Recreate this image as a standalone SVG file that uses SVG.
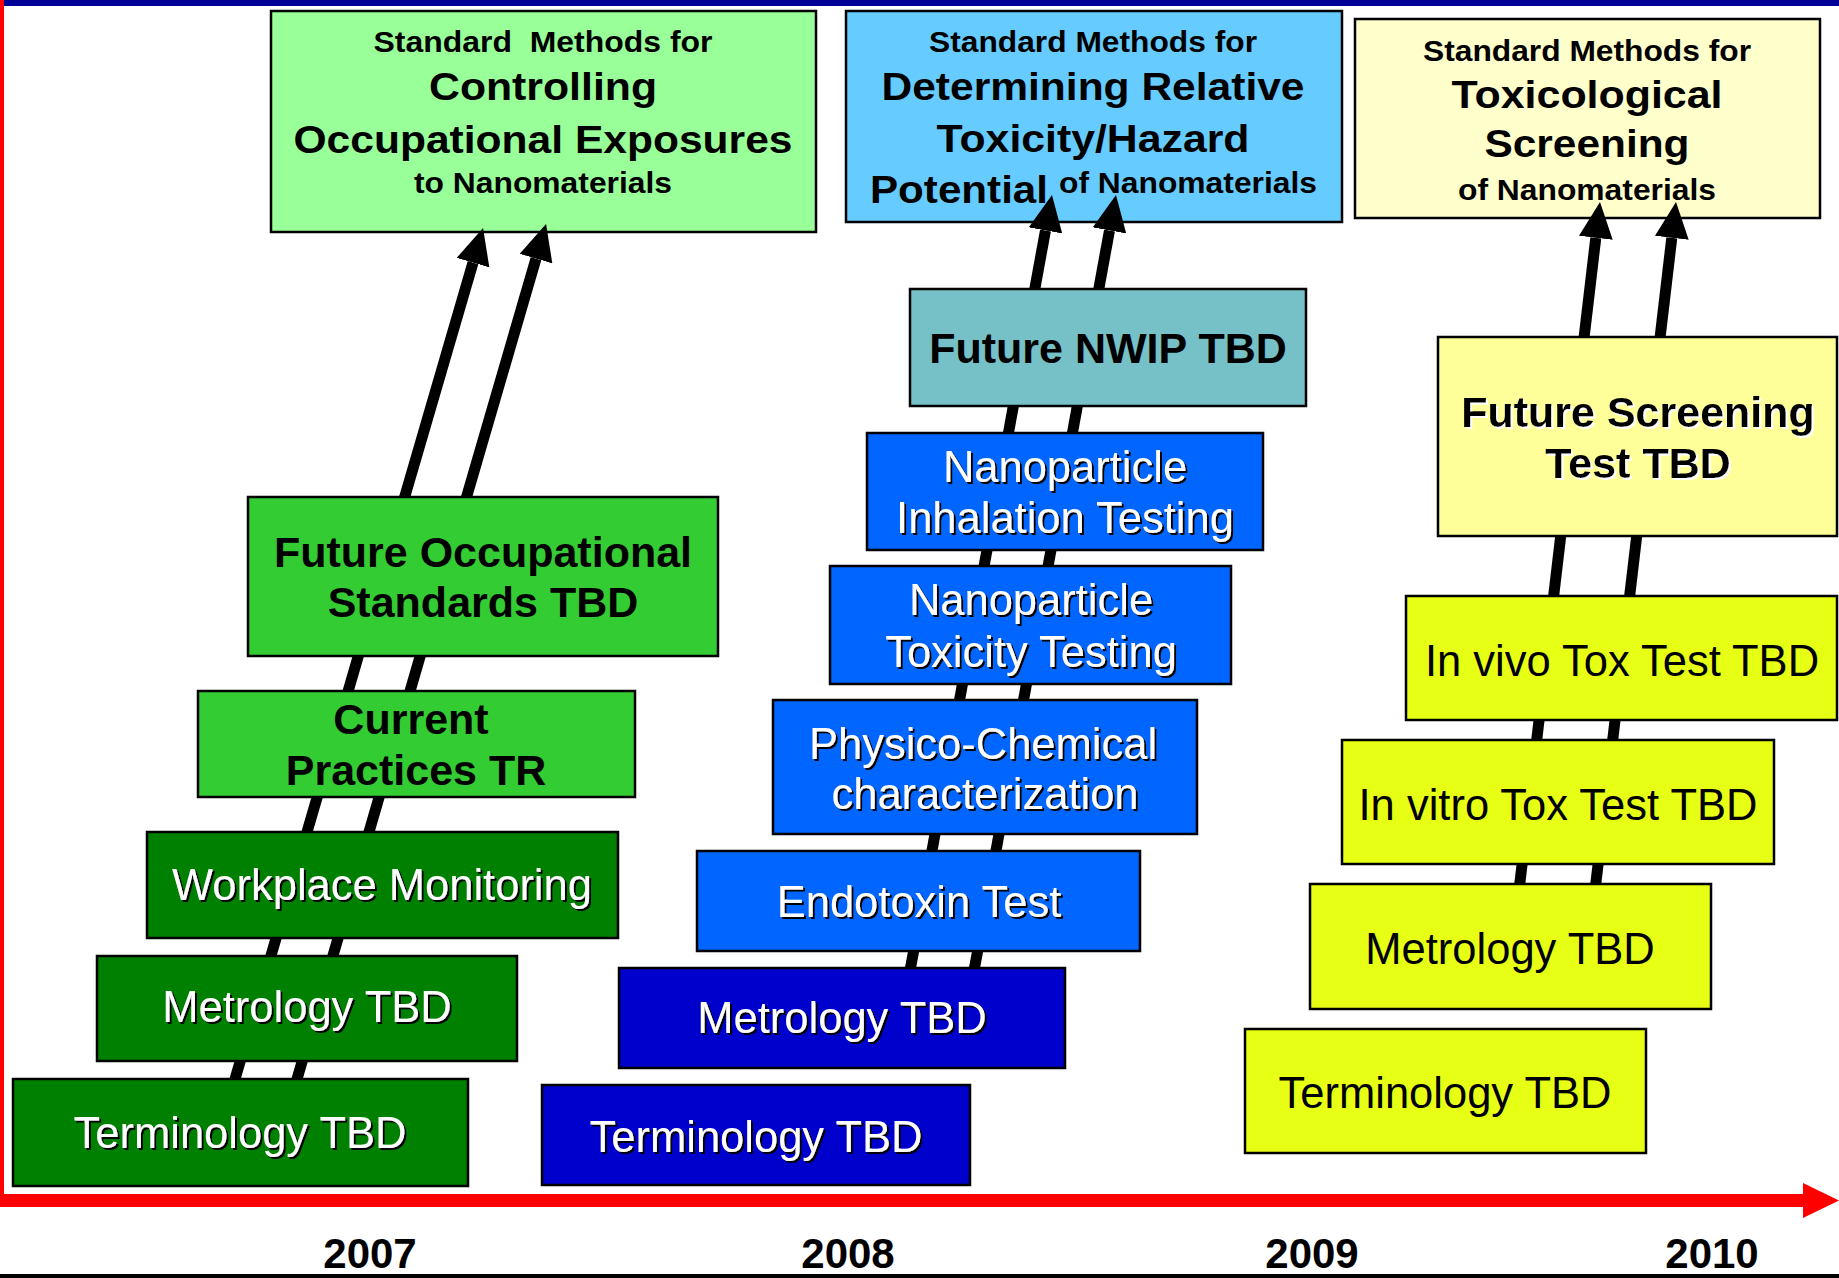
<svg xmlns="http://www.w3.org/2000/svg" width="1839" height="1278" viewBox="0 0 1839 1278">
<style>
.box{stroke:#000;stroke-width:2.5}
.t{font-family:"Liberation Sans",Arial,sans-serif;text-anchor:middle}
.w{fill:#fff;font-size:43.5px;filter:url(#dsh)}
.k{fill:#000;font-size:43.5px}
.b{fill:#000;font-weight:bold;font-size:43px}
.hd{fill:#000;font-weight:bold;font-size:39px}
.sm{fill:#000;font-weight:bold;font-size:30px}
.yr{fill:#000;font-weight:bold;font-size:42px}
.conn{stroke:#000;stroke-width:11;fill:none;marker-end:url(#ah)}
</style>
<defs>
<filter id="dsh" x="-10%" y="-30%" width="120%" height="160%"><feDropShadow dx="2" dy="2" stdDeviation="0.4" flood-color="#000" flood-opacity="1"/></filter>
<filter id="lsh" x="-10%" y="-30%" width="120%" height="160%"><feDropShadow dx="2" dy="2" stdDeviation="0.4" flood-color="#fff" flood-opacity="1"/></filter>
<marker id="ah" markerUnits="userSpaceOnUse" markerWidth="36" markerHeight="34" viewBox="0 0 36 34" refX="0" refY="17" orient="auto"><path d="M0,0 L36,17 L0,34 z" fill="#000"/></marker>
</defs>
<rect x="0" y="0" width="1839" height="1278" fill="#fff"/>
<rect x="0" y="0" width="1839" height="6" fill="#000099"/>
<rect x="0" y="0" width="4" height="1207" fill="#ff0000"/>
<rect x="0" y="1194" width="1804" height="13" fill="#ff0000"/>
<polygon points="1803,1183 1839,1200.5 1803,1218" fill="#ff0000"/>
<rect x="0" y="1274" width="1839" height="4" fill="#000"/>
<g id="years">
<text class="t yr" x="370" y="1268">2007</text>
<text class="t yr" x="848" y="1268">2008</text>
<text class="t yr" x="1312" y="1268">2009</text>
<text class="t yr" x="1712" y="1268">2010</text>
</g>
<g id="goal-occupational">
<rect class="box" x="271" y="11" width="545" height="221" fill="#99ff99"/>
<text class="t sm" x="543" y="52" xml:space="preserve" textLength="339" lengthAdjust="spacingAndGlyphs">Standard  Methods for</text>
<text class="t hd" x="543" y="100" textLength="228" lengthAdjust="spacingAndGlyphs">Controlling</text>
<text class="t hd" x="543" y="153" textLength="499" lengthAdjust="spacingAndGlyphs">Occupational Exposures</text>
<text class="t sm" x="543" y="193" textLength="258" lengthAdjust="spacingAndGlyphs">to Nanomaterials</text>
</g>
<g id="goal-toxicity">
<rect class="box" x="846" y="11" width="496" height="211" fill="#66ccff"/>
<text class="t sm" x="1093" y="52" textLength="328" lengthAdjust="spacingAndGlyphs">Standard Methods for</text>
<text class="t hd" x="1093" y="100" textLength="423" lengthAdjust="spacingAndGlyphs">Determining Relative</text>
<text class="t hd" x="1093" y="152" textLength="313" lengthAdjust="spacingAndGlyphs">Toxicity/Hazard</text>
<text class="hd" x="870" y="203" style="font-family:'Liberation Sans',Arial,sans-serif" textLength="178" lengthAdjust="spacingAndGlyphs">Potential</text>
<text class="sm" x="1059" y="193" style="font-family:'Liberation Sans',Arial,sans-serif" textLength="258" lengthAdjust="spacingAndGlyphs">of Nanomaterials</text>
</g>
<g id="goal-screening">
<rect class="box" x="1355" y="19" width="465" height="199" fill="#ffffcc"/>
<text class="t sm" x="1587" y="61" textLength="328" lengthAdjust="spacingAndGlyphs">Standard Methods for</text>
<text class="t hd" x="1587" y="108" textLength="271" lengthAdjust="spacingAndGlyphs">Toxicological</text>
<text class="t hd" x="1587" y="157" textLength="205" lengthAdjust="spacingAndGlyphs">Screening</text>
<text class="t sm" x="1587" y="200" textLength="258" lengthAdjust="spacingAndGlyphs">of Nanomaterials</text>
</g>
<g id="connectors">
<line class="conn" x1="226" y1="1110" x2="473" y2="262.6"/>
<line class="conn" x1="288" y1="1110" x2="536" y2="258.6"/>
<line class="conn" x1="901" y1="1020" x2="1045.5" y2="230.4"/>
<line class="conn" x1="965" y1="1020" x2="1109.5" y2="230.4"/>
<line class="conn" x1="1512" y1="950" x2="1595.8" y2="237.8"/>
<line class="conn" x1="1588" y1="950" x2="1671.8" y2="237.8"/>
</g>
<g id="future-occupational">
<rect class="box" x="248" y="497" width="470" height="159" fill="#33cc33"/>
<text class="t b" x="483" y="567">Future Occupational</text>
<text class="t b" x="483" y="617">Standards TBD</text>
</g>
<g id="current-practices">
<rect class="box" x="198" y="691" width="437" height="106" fill="#33cc33"/>
<text class="t b" x="411" y="734">Current</text>
<text class="t b" x="416" y="785">Practices TR</text>
</g>
<g id="workplace-monitoring">
<rect class="box" x="147" y="832" width="471" height="106" fill="#008000"/>
<text class="t w" x="382" y="900">Workplace Monitoring</text>
</g>
<g id="metrology-2007">
<rect class="box" x="97" y="956" width="420" height="105" fill="#008000"/>
<text class="t w" x="307" y="1022">Metrology TBD</text>
</g>
<g id="terminology-2007">
<rect class="box" x="13" y="1079" width="455" height="107" fill="#008000"/>
<text class="t w" x="240" y="1148">Terminology TBD</text>
</g>
<g id="future-nwip">
<rect class="box" x="910" y="289" width="396" height="117" fill="#76c0c7"/>
<text class="t b" x="1108" y="363">Future NWIP TBD</text>
</g>
<g id="inhalation">
<rect class="box" x="867" y="433" width="396" height="117" fill="#0066ff"/>
<text class="t w" x="1065" y="482">Nanoparticle</text>
<text class="t w" x="1065" y="533">Inhalation Testing</text>
</g>
<g id="toxicity-testing">
<rect class="box" x="830" y="566" width="401" height="118" fill="#0066ff"/>
<text class="t w" x="1031" y="615">Nanoparticle</text>
<text class="t w" x="1031" y="667">Toxicity Testing</text>
</g>
<g id="physico-chemical">
<rect class="box" x="773" y="700" width="424" height="134" fill="#0066ff"/>
<text class="t w" x="983" y="759">Physico-Chemical</text>
<text class="t w" x="985" y="809">characterization</text>
</g>
<g id="endotoxin">
<rect class="box" x="697" y="851" width="443" height="100" fill="#0066ff"/>
<text class="t w" x="919" y="917">Endotoxin Test</text>
</g>
<g id="metrology-2008">
<rect class="box" x="619" y="968" width="446" height="100" fill="#0000cc"/>
<text class="t w" x="842" y="1033">Metrology TBD</text>
</g>
<g id="terminology-2008">
<rect class="box" x="542" y="1085" width="428" height="100" fill="#0000cc"/>
<text class="t w" x="756" y="1152">Terminology TBD</text>
</g>
<g id="future-screening">
<rect class="box" x="1438" y="337" width="399" height="199" fill="#ffff99"/>
<text class="t b" x="1638" y="427" style="filter:url(#lsh)">Future Screening</text>
<text class="t b" x="1638" y="478" style="filter:url(#lsh)">Test TBD</text>
</g>
<g id="in-vivo">
<rect class="box" x="1406" y="596" width="431" height="124" fill="#e6ff14"/>
<text class="t k" x="1622" y="676">In vivo Tox Test TBD</text>
</g>
<g id="in-vitro">
<rect class="box" x="1342" y="740" width="432" height="124" fill="#e6ff14"/>
<text class="t k" x="1558" y="820">In vitro Tox Test TBD</text>
</g>
<g id="metrology-2009">
<rect class="box" x="1310" y="884" width="401" height="125" fill="#e6ff14"/>
<text class="t k" x="1510" y="964">Metrology TBD</text>
</g>
<g id="terminology-2009">
<rect class="box" x="1245" y="1029" width="401" height="124" fill="#e6ff14"/>
<text class="t k" x="1445" y="1108">Terminology TBD</text>
</g>
</svg>
